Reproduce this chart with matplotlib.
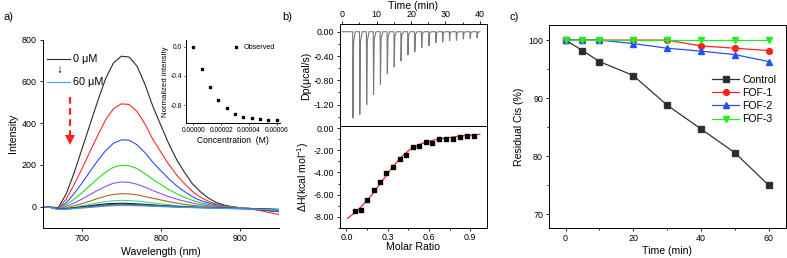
import numpy as np
import matplotlib
matplotlib.use('Agg')
import matplotlib.pyplot as plt
from matplotlib.ticker import MultipleLocator, FormatStrFormatter

plt.rcParams['font.family'] = ['Liberation Sans', 'DejaVu Sans']
plt.rcParams['mathtext.fontset'] = 'custom'
plt.rcParams['mathtext.rm'] = 'Liberation Sans'
plt.rcParams['axes.unicode_minus'] = False
plt.rcParams['axes.linewidth'] = 0.7

# ---------- a) 荧光光谱 ----------
wavelength = list(range(650, 951, 10))
spec_0 = [0, -2, -5, 60, 160, 275, 390, 505, 612, 688, 720, 716, 672, 585, 480, 390, 302, 226, 165, 110, 72, 42, 20, 8, 0, -5, -10, -14, -18, -21, -24]
spec_1 = [0, -2, -8, 35, 105, 180, 262, 340, 415, 468, 492, 489, 455, 395, 322, 262, 203, 152, 110, 73, 46, 26, 12, 4, -2, -6, -10, -15, -22, -30, -38]
spec_2 = [0, -3, -10, 18, 62, 112, 167, 220, 268, 303, 320, 318, 296, 258, 212, 172, 134, 100, 72, 48, 30, 17, 8, 2, -2, -5, -8, -12, -16, -20, -24]
spec_3 = [0, -3, -10, 8, 35, 66, 100, 134, 165, 188, 198, 196, 182, 158, 130, 106, 82, 62, 45, 30, 19, 10, 4, 0, -3, -5, -8, -10, -13, -16, -18]
spec_4 = [0, -3, -11, 0, 17, 36, 57, 78, 97, 112, 118, 116, 107, 93, 77, 62, 48, 36, 26, 17, 10, 5, 1, -2, -4, -6, -8, -10, -12, -14, -16]
spec_5 = [0, -3, -12, -6, 4, 14, 26, 39, 50, 58, 62, 61, 56, 48, 40, 32, 24, 17, 11, 6, 2, -1, -3, -5, -6, -7, -8, -10, -11, -12, -14]
spec_6 = [0, -3, -12, -9, -3, 4, 11, 18, 24, 28, 30, 29, 26, 22, 17, 13, 9, 5, 2, 0, -2, -4, -5, -6, -7, -8, -9, -10, -11, -12, -13]
spec_7 = [0, -3, -12, -10, -6, -1, 4, 9, 13, 15, 16, 15, 13, 11, 8, 5, 3, 1, -1, -3, -4, -5, -6, -7, -8, -9, -10, -11, -12, -13, -14]
spec_8 = [0, -3, -13, -11, -7, -3, 1, 5, 9, 11, 12, 11, 10, 8, 6, 4, 2, 0, -2, -3, -4, -5, -6, -7, -8, -9, -10, -11, -12, -13, -14]
spec_9 = [0, -3, -13, -12, -9, -5, -2, 2, 5, 7, 8, 7, 6, 5, 3, 1, 0, -2, -3, -4, -5, -6, -7, -8, -9, -10, -11, -12, -13, -14, -15]
spec_10 = [0, -4, -14, -13, -10, -7, -4, -1, 2, 4, 5, 5, 4, 3, 1, 0, -1, -3, -4, -5, -6, -7, -8, -9, -10, -11, -12, -13, -14, -15, -16]
spectra = [spec_0, spec_1, spec_2, spec_3, spec_4, spec_5, spec_6, spec_7, spec_8, spec_9, spec_10]
spec_colors = ['#2b2b2b', '#ff2a2a', '#2a4cff', '#22dd22', '#8a55f0', '#a8681e',
               '#2ee0a8', '#1a1a1a', '#6b3d14', '#707070', '#3a9cff']

# 插图
inset_conc = [0, 6e-6, 12e-6, 18e-6, 24e-6, 30e-6, 36e-6, 42e-6, 48e-6, 54e-6, 60e-6]
inset_norm = [0, -0.31, -0.55, -0.73, -0.835, -0.92, -0.96, -0.98, -0.99, -1.0, -1.0]

# ---------- b) ITC ----------
inj_time = [3.1, 5.1, 7.1, 9.1, 11.1, 13.1, 15.1, 17.1, 19.1, 21.1, 23.1, 25.2, 27.2, 29.2, 31.2, 33.2, 35.2, 37.2, 39.2]
inj_depth = [-1.42, -1.36, -1.20, -1.03, -0.87, -0.69, -0.58, -0.48, -0.38, -0.33, -0.26, -0.23, -0.18, -0.17, -0.15, -0.14, -0.12, -0.11, -0.10]
molar_ratio = [0.06, 0.104, 0.15, 0.198, 0.244, 0.29, 0.339, 0.387, 0.433, 0.482, 0.53, 0.578, 0.625, 0.675, 0.723, 0.774, 0.823, 0.876, 0.927]
delta_h = [-7.48, -7.37, -6.52, -5.61, -4.89, -4.05, -3.53, -2.81, -2.42, -1.69, -1.57, -1.24, -1.30, -0.94, -0.97, -0.97, -0.82, -0.73, -0.67]
fit_ratio = [0.01, 0.05, 0.1, 0.15, 0.2, 0.25, 0.3, 0.35, 0.4, 0.45, 0.5, 0.55, 0.6, 0.65, 0.7, 0.75, 0.8, 0.85, 0.9, 0.95, 0.97]
fit_dh = [-8.15, -7.75, -7.2, -6.55, -5.8, -4.95, -4.1, -3.3, -2.6, -2.05, -1.65, -1.38, -1.18, -1.03, -0.92, -0.83, -0.75, -0.68, -0.62, -0.57, -0.55]

# ---------- c) 残留率 ----------
time_c = [0, 5, 10, 20, 30, 40, 50, 60]
control = [100, 98.2, 96.3, 93.9, 88.8, 84.7, 80.6, 75.0]
fof1 = [100, 100, 100, 100, 100, 99.0, 98.6, 98.2]
fof2 = [100, 100, 100, 99.4, 98.6, 98.1, 97.5, 96.3]
fof3 = [100, 100, 100, 100, 100, 100, 100, 100]

W, H = 787, 258
fig = plt.figure(figsize=(W / 100, H / 100), dpi=100)

def px_axes(left, top, right, bottom):
    return fig.add_axes([left / W, 1 - bottom / H, (right - left) / W, (bottom - top) / H])

tick_fs = 6.4
lab_fs = 7.6

# ===== a =====
ax = px_axes(42.5, 39.5, 279, 227.5)
for s, c in zip(spectra, spec_colors):
    ax.plot(wavelength, s, color=c, lw=0.8)
ax.set_xlim(650, 950)
ax.set_ylim(-100, 800)
ax.spines['top'].set_visible(False)
ax.spines['right'].set_visible(False)
ax.xaxis.set_major_locator(MultipleLocator(100))
ax.yaxis.set_major_locator(MultipleLocator(200))
ax.tick_params(labelsize=tick_fs, length=2.5, width=0.6, direction='out', pad=2)
ax.set_xlabel('Wavelength (nm)', fontsize=lab_fs, labelpad=3)
ax.set_ylabel('Intensity', fontsize=lab_fs, labelpad=2)

# 图例（手画）
ax.plot([0.019, 0.116], [0.896, 0.896], color='#2b2b2b', lw=0.8, transform=ax.transAxes)
ax.plot([0.019, 0.116], [0.774, 0.774], color='#3a9cff', lw=0.8, transform=ax.transAxes)
ax.text(0.13, 0.896, '0 μM', fontsize=7.8, va='center', transform=ax.transAxes)
ax.text(0.13, 0.774, '60 μM', fontsize=7.8, va='center', transform=ax.transAxes)
ax.text(0.07, 0.838, '↓', fontsize=8.5, va='center', ha='center', transform=ax.transAxes)

# 红色虚线箭头
ax.plot([685, 685], [525, 335], '--', color='#ff2020', lw=1.6, dashes=(3, 2))
ax.plot([685], [318], marker='v', color='#ff2020', markersize=6.5, markeredgewidth=0)

# 插图
axi = px_axes(186, 40, 279.5, 123.3)
axi.plot(inset_conc, inset_norm, 's', color='black', markersize=1.6, label='Observed')
axi.set_xlim(-5.2e-6, 6.2e-5)
axi.set_ylim(-1.05, 0.09)
axi.spines['top'].set_visible(False)
axi.spines['right'].set_visible(False)
axi.set_xticks([0, 2e-5, 4e-5, 6e-5])
axi.set_xticklabels(['0.00000', '0.00002', '0.00004', '0.00006'])
axi.set_yticks([0.0, -0.4, -0.8])
axi.yaxis.set_major_formatter(FormatStrFormatter('%.1f'))
axi.tick_params(labelsize=4.8, length=1.5, width=0.5, pad=1.5)
axi.set_xlabel('Concentration  (M)', fontsize=6.2, labelpad=1)
axi.set_ylabel('Normalized intensity', fontsize=5.6, labelpad=1)
axi.legend(loc='upper right', fontsize=5.2, frameon=False, handlelength=1, handletextpad=0.6,
           borderaxespad=0.2, markerscale=1.0)
axi.patch.set_alpha(0)

# ===== b =====
axt = px_axes(339.5, 24.3, 486.7, 126.5)
tx, ty = [0.0], [0.0]
for t, d in zip(inj_time, inj_depth):
    tx += [t - 0.08, t, t + 0.2, t + 0.7]
    ty += [0.0, d, d * 0.12, 0.0]
tx.append(40.0)
ty.append(0.0)
axt.plot(tx, ty, color='#7a7a7a', lw=0.8)
axt.set_xlim(-0.8, 42)
axt.set_ylim(-1.56, 0.122)
axt.xaxis.tick_top()
axt.xaxis.set_label_position('top')
axt.xaxis.set_major_locator(MultipleLocator(10))
axt.xaxis.set_minor_locator(MultipleLocator(5))
axt.yaxis.set_major_locator(MultipleLocator(0.4))
axt.yaxis.set_minor_locator(MultipleLocator(0.2))
axt.yaxis.set_major_formatter(FormatStrFormatter('%.2f'))
axt.tick_params(which='both', labelsize=tick_fs, width=0.6, direction='out', pad=1.5)
axt.tick_params(which='major', length=2.2)
axt.tick_params(which='minor', length=1.3)
axt.set_xlabel('Time (min)', fontsize=lab_fs, labelpad=1)
axt.set_ylabel('Dp(μcal/s)', fontsize=lab_fs, labelpad=2)

axb = px_axes(339.5, 126.5, 486.7, 227.7)
axb.plot(fit_ratio, fit_dh, color='#ff2020', lw=0.9)
axb.plot(molar_ratio, delta_h, 's', color='black', markersize=3)
axb.set_xlim(-0.05, 1.02)
axb.set_ylim(-9.0, 0.16)
axb.xaxis.set_major_locator(MultipleLocator(0.3))
axb.xaxis.set_minor_locator(MultipleLocator(0.15))
axb.yaxis.set_major_locator(MultipleLocator(2))
axb.yaxis.set_minor_locator(MultipleLocator(1))
axb.xaxis.set_major_formatter(FormatStrFormatter('%.1f'))
axb.yaxis.set_major_formatter(FormatStrFormatter('%.2f'))
axb.tick_params(which='both', labelsize=tick_fs, width=0.6, direction='out', pad=1.5)
axb.tick_params(which='major', length=2.2)
axb.tick_params(which='minor', length=1.3)
axb.set_xlabel('Molar Ratio', fontsize=lab_fs, labelpad=0)
axb.set_ylabel('ΔH(kcal mol$^{-1}$)', fontsize=lab_fs, labelpad=2)

# ===== c =====
axc = px_axes(549.3, 25, 785.7, 227.7)
axc.plot(time_c, control, '-s', color='#333333', markerfacecolor='#2b2b2b', lw=0.9, markersize=3.8, label='Control')
axc.plot(time_c, fof1, '-o', color='#ff2020', lw=0.9, markersize=4.2, label='FOF-1')
axc.plot(time_c, fof2, '-^', color='#2050ff', lw=0.9, markersize=4.5, label='FOF-2')
axc.plot(time_c, fof3, '-v', color='#22ee22', lw=0.9, markersize=4.5, label='FOF-3')
axc.set_xlim(-4.8, 65)
axc.set_ylim(67.7, 102.6)
axc.xaxis.set_major_locator(MultipleLocator(20))
axc.xaxis.set_minor_locator(MultipleLocator(10))
axc.yaxis.set_major_locator(MultipleLocator(10))
axc.yaxis.set_minor_locator(MultipleLocator(5))
axc.tick_params(which='both', labelsize=tick_fs, width=0.6, direction='out', pad=2)
axc.tick_params(which='major', length=2.5)
axc.tick_params(which='minor', length=1.5)
axc.set_xlabel('Time (min)', fontsize=lab_fs, labelpad=2)
axc.set_ylabel('Residual Cis (%)', fontsize=lab_fs, labelpad=3)
axc.legend(loc='upper left', bbox_to_anchor=(0.67, 0.775), fontsize=7.6, frameon=False,
           handlelength=2.6, handletextpad=0.3, labelspacing=0.3, borderaxespad=0)

# 面板标号
fig.text(3 / W, 1 - 17 / H, 'a)', fontsize=8, va='center')
fig.text(282 / W, 1 - 17 / H, 'b)', fontsize=8, va='center')
fig.text(510 / W, 1 - 17 / H, 'c)', fontsize=8, va='center')

fig.savefig('out.png', dpi=100)
